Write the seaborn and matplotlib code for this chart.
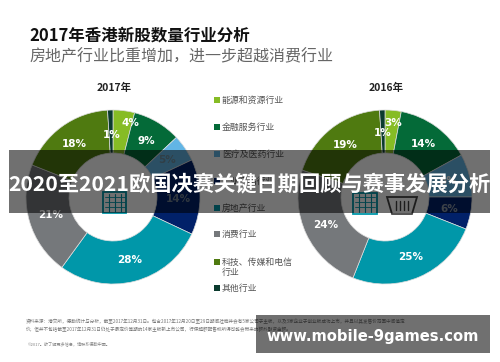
import matplotlib
matplotlib.use('Agg')
import matplotlib.pyplot as plt
from matplotlib.patches import Rectangle, Polygon
import seaborn as sns

# dati
industries = ['能源和资源行业', '金融服务行业', '医疗及医药行业', '工业产品行业', '房地产行业',
              '消费行业', '科技、传媒和电信\n行业', '其他行业']
share_2017 = [4, 9, 5, 14, 28, 21, 18, 1]
share_2016 = [3, 14, 8, 6, 25, 24, 19, 1]
colors = ['#86bc25', '#046a38', '#62b5e5', '#012169', '#0097a9', '#75787b', '#4f7a10', '#0b3b2e']
title = '2017年香港新股数量行业分析'
subtitle = '房地产行业比重增加，进一步超越消费行业'
banner = '2020至2021欧国决赛关键日期回顾与赛事发展分析'
site = 'www.mobile-9games.com'
note1 = '资料来源：港交所，德勤统计与分析，截至2017年12月31日。包含2017年12月20日至29日期间挂牌并会有5家公司于主板，以及3家企业于创业板成功上市，并且以其发售价范围中间值定'
note2 = '价，但并不包括截至2017年12月31日仍处于最定价等期的14家主板新上市公司，行使超额配售权所得可能会带来的额外融资金额。'
note3 = '©2017。欲了解更多信息，请联系德勤中国。'

sns.set_theme(style='white')
plt.rcParams['font.family'] = ['Noto Sans CJK SC', 'DejaVu Sans']
palette = sns.color_palette(colors)

fig = plt.figure(figsize=(5, 3.62), dpi=100)
ax = fig.add_axes([0, 0, 1, 1])


# l'asse y e' invertito: counterclock=True appare in senso orario
def donut(values, cx):
    wedges, _, autotexts = ax.pie(values, colors=palette, center=(cx, 197), radius=87, startangle=-90,
                                  counterclock=True, autopct='%d%%', pctdistance=0.75,
                                  wedgeprops=dict(width=43, edgecolor='#dddddd', linewidth=0.5))
    for t in autotexts:
        t.set_color('white')
        t.set_fontsize(7.5)
        t.set_fontweight('bold')
        t.set_fontfamily('DejaVu Sans')
    return autotexts


labels_2017 = donut(share_2017, 113)
labels_2016 = donut(share_2016, 385)
# le etichette piccole sono spostate a mano
labels_2017[0].set_position((130, 123))
labels_2017[7].set_position((112, 135))
labels_2017[3].set_position((178, 199))
labels_2016[0].set_position((393, 123))
labels_2016[7].set_position((383, 133))
labels_2017[2].set_color('#6f8fa0')
labels_2017[3].set_color('#6f7f90')
labels_2016[3].set_color('#8a96a5')

ax.set_xlim(0, 500)
ax.set_ylim(362, 0)
ax.axis('off')

# titoli
ax.text(29, 36, title, fontsize=11.9, fontweight='bold', color='#111111', va='center')
ax.text(29, 57, subtitle, fontsize=11.5, color='#666666', va='center')
ax.text(114, 88, '2017年', fontsize=7.5, fontweight='bold', color='#222222', ha='center', va='center')
ax.text(386, 88, '2016年', fontsize=7.5, fontweight='bold', color='#222222', ha='center', va='center')

# legenda
legend_y = [100, 127, 154, 181, 208, 234, 262, 288]
sns.scatterplot(x=[217] * 8, y=legend_y, hue=industries, palette=palette, marker='s', s=14,
                linewidth=0, legend=False, ax=ax)
for name, yy in zip(industries, legend_y):
    top = yy - 4.5
    ax.text(222, top, name, fontsize=6.4, color='#555555', va='top', linespacing=1.25)

# icone
ax.add_patch(Rectangle((103, 192), 23, 21, fill=False, edgecolor='#0097a9', linewidth=1.3))
ax.add_patch(Rectangle((353, 193), 24, 21, fill=False, edgecolor='#0097a9', linewidth=1.3))
for bx in [103, 353]:
    for i in range(1, 4):
        ax.plot([bx + i * 6, bx + i * 6], [194, 212], color='#0097a9', lw=0.8)
    for i in range(1, 4):
        ax.plot([bx + 2, bx + 22], [192 + i * 5, 192 + i * 5], color='#0097a9', lw=0.6)
ax.add_patch(Polygon([(387, 197), (417, 197), (412, 214), (392, 214)], fill=False, edgecolor='#444444', linewidth=1.3))
for i in range(4):
    ax.plot([396 + i * 4, 396 + i * 4], [201, 210], color='#444444', lw=1)

# note
ax.text(26, 322, note1, fontsize=3.3, color='#777777', va='center')
ax.text(26, 329.5, note2, fontsize=3.3, color='#777777', va='center')
ax.text(28, 344, note3, fontsize=3.0, color='#888888', va='center')

# fasce scure sopra al grafico
ax.add_patch(Rectangle((9, 150), 481, 63, color='black', alpha=0.56, lw=0, zorder=10))
ax.add_patch(Rectangle((256, 315), 234, 38, color='black', alpha=0.56, lw=0, zorder=10))
ax.text(249.5, 184, banner, fontsize=15.3, fontweight='bold', color='white', ha='center', va='center', zorder=11)
ax.text(373, 337, site, fontsize=10.6, fontweight='bold', color='white', ha='center', va='center',
        family='DejaVu Sans', zorder=11)

fig.savefig('out.png', dpi=100)
